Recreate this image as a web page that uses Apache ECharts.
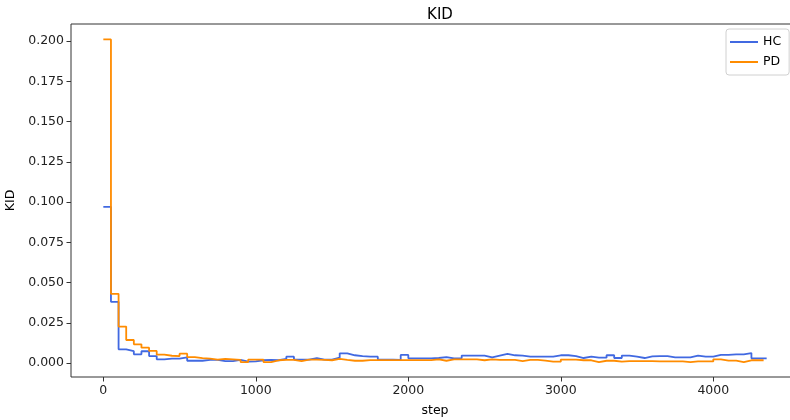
<!DOCTYPE html>
<html>
<head>
<meta charset="utf-8">
<script src="https://cdn.jsdelivr.net/npm/echarts@6/dist/echarts.min.js"></script>
<style>html,body{margin:0;padding:0;background:#fff}#c{width:790px;height:420px}</style>
</head>
<body>
<div id="c"></div>
<script>
// KID evaluated every 50 steps (step-post curves)
const logEvery = 50;
const hcValues = [0.097,0.038,0.0085,0.0073,0.0054,0.0073,0.0043,0.0023,0.0027,0.0027,
  0.0035,0.0014,0.0014,0.0019,0.0019,0.0012,0.0012,0.0019,0.0008,0.0010,
  0.0017,0.0019,0.0017,0.0025,0.0039,0.0021,0.0021,0.0031,0.0021,0.0021,
  0.0033,0.0060,0.0048,0.0043,0.0039,0.0039,0.0021,0.0021,0.0019,0.0050,
  0.0029,0.0029,0.0029,0.0031,0.0037,0.0029,0.0029,0.0046,0.0046,0.0046,
  0.0035,0.0046,0.0056,0.0048,0.0046,0.0040,0.0040,0.0040,0.0039,0.0048,
  0.0048,0.0043,0.0031,0.0039,0.0033,0.0033,0.0048,0.0031,0.0046,0.0039,
  0.0031,0.0041,0.0043,0.0043,0.0035,0.0035,0.0035,0.0046,0.0039,0.0039,
  0.0050,0.0050,0.0054,0.0054,0.0062,0.0029,0.0029];
const pdValues = [0.201,0.043,0.0226,0.0143,0.0116,0.0095,0.0075,0.0052,0.0045,0.0043,
  0.0058,0.0037,0.0030,0.0027,0.0021,0.0025,0.0023,0.0019,0.0006,0.0021,
  0.0021,0.0006,0.0017,0.0019,0.0019,0.0012,0.0021,0.0021,0.0019,0.0017,
  0.0025,0.0019,0.0014,0.0014,0.0018,0.0018,0.0018,0.0018,0.0018,0.0018,
  0.0018,0.0018,0.0018,0.0023,0.0014,0.0023,0.0023,0.0023,0.0023,0.0017,
  0.0023,0.0019,0.0019,0.0019,0.0012,0.0019,0.0019,0.0015,0.0008,0.0008,
  0.0021,0.0021,0.0017,0.0017,0.0006,0.0014,0.0014,0.0008,0.0012,0.0012,
  0.0012,0.0012,0.0010,0.0010,0.0010,0.0010,0.0006,0.0010,0.0010,0.0010,
  0.0023,0.0015,0.0015,0.0006,0.0017,0.0017,0.0017];
const hcEnd = 4350;
const pdEnd = 4330;
const xTicks = [0, 1000, 2000, 3000, 4000];
const yTicks = [0, 0.025, 0.05, 0.075, 0.1, 0.125, 0.15, 0.175, 0.2];

function build(values, end) {
  const d = values.map((v, i) => [i * logEvery, v]);
  d.push([end, values[values.length - 1]]);
  return d;
}

const font = 'DejaVu Sans';
const chart = echarts.init(document.getElementById('c'), null, {renderer: 'canvas'});
chart.setOption({
  animation: false,
  backgroundColor: '#fff',
  title: {
    text: 'KID', left: 435, top: 3, textAlign: 'center',
    textStyle: {fontFamily: font, fontSize: 15, fontWeight: 'normal', color: '#000'}
  },
  legend: {
    orient: 'vertical', left: 726, top: 29,
    padding: [6, 8, 6, 4], itemGap: 6, itemWidth: 28, itemHeight: 2,
    borderColor: '#d0d0d0', borderWidth: 1, borderRadius: 3, backgroundColor: '#fff',
    textStyle: {fontFamily: font, fontSize: 12.5, color: '#000', lineHeight: 14},
    data: [{name: 'HC', icon: 'rect'}, {name: 'PD', icon: 'rect'}]
  },
  grid: {
    left: 71, top: 24, right: -9, bottom: 43,
    containLabel: false, outerBoundsMode: 'none',
    show: true, borderColor: '#333', borderWidth: 1, backgroundColor: 'transparent'
  },
  xAxis: {
    type: 'value', min: -212, max: 4562,
    name: 'step', nameLocation: 'middle', nameGap: 27,
    nameTextStyle: {fontFamily: font, fontSize: 12.5, color: '#000'},
    axisLine: {show: false, onZero: false},
    axisTick: {show: true, length: 4.5, lineStyle: {color: '#333'}, customValues: xTicks},
    axisLabel: {fontFamily: font, fontSize: 12.5, color: '#222', margin: 7,
      customValues: xTicks, formatter: v => String(v)},
    splitLine: {show: false}
  },
  yAxis: {
    type: 'value', min: -0.0087, max: 0.2106,
    name: 'KID', nameLocation: 'middle', nameGap: 52, nameRotate: 90,
    nameTextStyle: {fontFamily: font, fontSize: 12.5, color: '#000'},
    axisLine: {show: false, onZero: false},
    axisTick: {show: true, length: 4.5, lineStyle: {color: '#333'}, customValues: yTicks},
    axisLabel: {fontFamily: font, fontSize: 12.5, color: '#222', margin: 7,
      customValues: yTicks, formatter: v => v.toFixed(3)},
    splitLine: {show: false}
  },
  series: [
    {name: 'HC', type: 'line', step: 'end', showSymbol: false, color: '#4169E1',
     lineStyle: {width: 1.8, color: '#4169E1'}, data: build(hcValues, hcEnd)},
    {name: 'PD', type: 'line', step: 'end', showSymbol: false, color: '#FF8C00',
     lineStyle: {width: 1.8, color: '#FF8C00'}, data: build(pdValues, pdEnd)}
  ]
});
</script>
</body>
</html>
